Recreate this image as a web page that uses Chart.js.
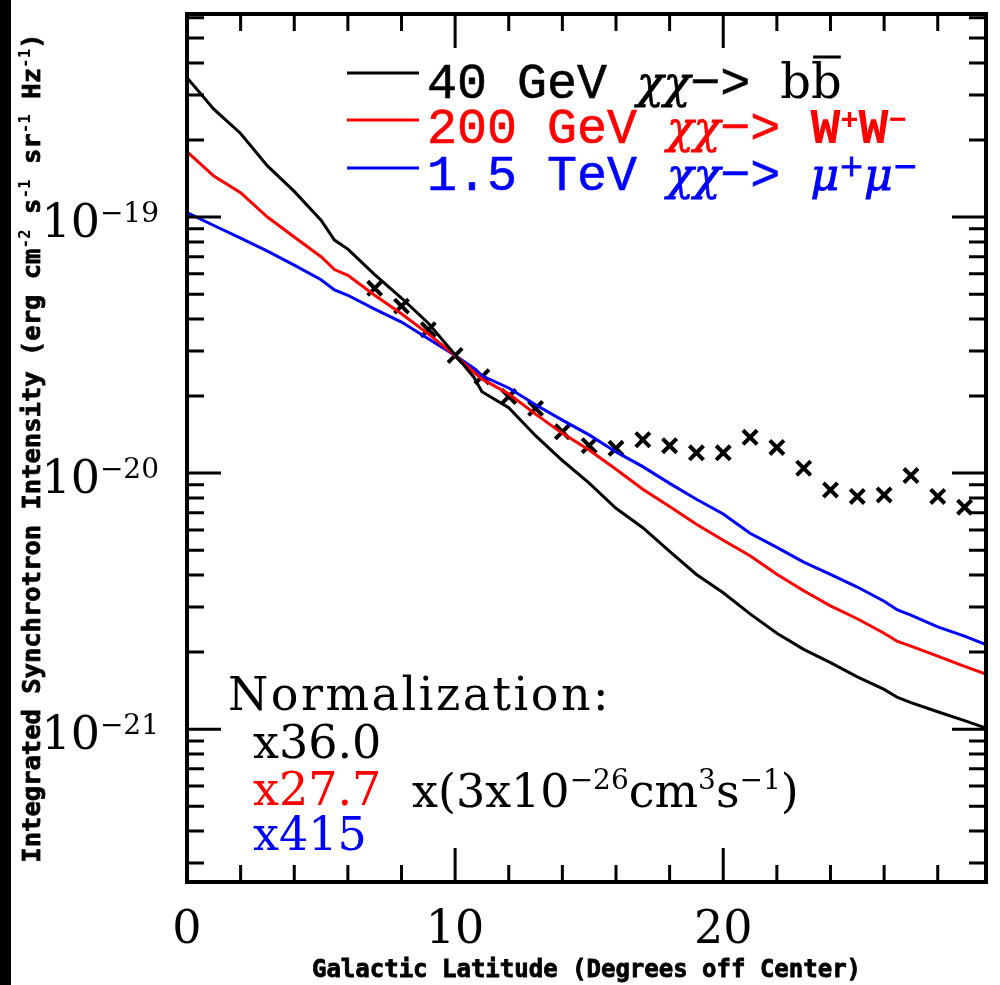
<!DOCTYPE html>
<html>
<head>
<meta charset="utf-8">
<script src="https://cdn.jsdelivr.net/npm/chart.js@4/dist/chart.umd.min.js"></script>
<style>
  html, body { margin: 0; padding: 0; background: #fff; }
  #wrap { position: relative; width: 1000px; height: 985px; background: #fff; }
  #strip { position: absolute; left: 0; top: 0; width: 11px; height: 985px; background: #000; }
  #myChart { position: absolute; left: 0; top: 0; }
</style>
</head>
<body>
<div id="wrap"><div id="strip"></div><canvas id="myChart" width="1000" height="985"></canvas></div>
<script>
// galactic latitude (degrees off center) where the model curves are sampled
var latitude = [0, 1, 2, 3, 4, 5, 5.5, 6, 7, 8, 9, 10, 10.7, 11, 12, 13, 14, 15, 16, 17, 18,
                19, 20, 21, 22, 23, 24, 25, 26, 26.5, 27, 28, 29, 29.8];

// integrated synchrotron intensity (erg cm^-2 s^-1 sr^-1 Hz^-1)
var bb40GeV = [3.50e-19, 2.64e-19, 2.12e-19, 1.585e-19, 1.26e-19, 9.73e-20, 8.13e-20, 7.50e-20,
               5.96e-20, 4.83e-20, 3.85e-20, 2.90e-20, 2.37e-20, 2.08e-20, 1.80e-20, 1.40e-20,
               1.12e-20, 9.14e-21, 7.29e-21, 6.12e-21, 4.95e-21, 4.02e-21, 3.41e-21, 2.82e-21,
               2.37e-21, 2.05e-21, 1.82e-21, 1.60e-21, 1.43e-21, 1.33e-21, 1.27e-21, 1.17e-21,
               1.08e-21, 1.01e-21];
var ww200GeV = [1.80e-19, 1.445e-19, 1.245e-19, 1.00e-19, 8.36e-20, 7.00e-20, 6.24e-20, 5.92e-20,
                4.95e-20, 4.19e-20, 3.50e-20, 2.88e-20, 2.48e-20, 2.33e-20, 2.04e-20, 1.70e-20,
                1.43e-20, 1.23e-20, 1.035e-20, 8.65e-21, 7.41e-21, 6.31e-21, 5.47e-21, 4.76e-21,
                4.03e-21, 3.47e-21, 3.03e-21, 2.70e-21, 2.37e-21, 2.20e-21, 2.11e-21, 1.93e-21,
                1.76e-21, 1.64e-21];
var mumu1500GeV = [1.04e-19, 9.27e-20, 8.28e-20, 7.36e-20, 6.49e-20, 5.69e-20, 5.19e-20, 4.95e-20,
                   4.37e-20, 3.89e-20, 3.35e-20, 2.88e-20, 2.57e-20, 2.40e-20, 2.15e-20, 1.85e-20,
                   1.61e-20, 1.41e-20, 1.21e-20, 1.06e-20, 9.12e-21, 7.91e-21, 6.92e-21, 5.82e-21,
                   5.13e-21, 4.49e-21, 4.02e-21, 3.59e-21, 3.16e-21, 2.92e-21, 2.79e-21, 2.51e-21,
                   2.31e-21, 2.14e-21];

// measured haze points
var hazeLatitude = [7, 8, 9, 10, 11, 12, 13, 14, 15, 16, 17, 18, 19, 20, 21, 22, 23, 24, 25, 26, 27, 28, 29];
var hazeIntensity = [5.27e-20, 4.49e-20, 3.63e-20, 2.88e-20, 2.38e-20, 1.99e-20, 1.79e-20, 1.45e-20,
                     1.28e-20, 1.25e-20, 1.35e-20, 1.28e-20, 1.20e-20, 1.20e-20, 1.38e-20, 1.26e-20,
                     1.045e-20, 8.59e-21, 8.11e-21, 8.22e-21, 9.78e-21, 8.11e-21, 7.36e-21];

// axes
var xMin = 0, xMax = 29.8;
var yMin = 2.53e-22, yMax = 6.21e-19;
var xTickLabels = ['0', '10', '20'];
var xTickValues = [0, 10, 20];
var yTickExponents = [-21, -20, -19];

// legend and normalisation text
var energies = ['40 GeV', '200 GeV', '1.5 TeV'];
var factors = ['x36.0', 'x27.7', 'x415'];
var colors = ['#000000', '#ff0000', '#0000ff'];

var SERIF = '"DejaVu Serif", serif';
var MONO = '"Liberation Mono", monospace';
var BOLDMONO = '"DejaVu Sans Mono", monospace';

function toPoints(xs, ys) {
  return xs.map(function (x, i) { return { x: x, y: ys[i] }; });
}

// draw a list of text runs one after the other, returns the end x
function drawRuns(ctx, x, y, runs, measureOnly) {
  runs.forEach(function (r) {
    ctx.font = r.font;
    ctx.letterSpacing = r.spacing || '0px';
    var w = ctx.measureText(r.text).width;
    if (!measureOnly) {
      ctx.fillStyle = r.color || '#000';
      ctx.fillText(r.text, x, y - (r.rise || 0));
      if (r.heavy) {
        ctx.strokeStyle = r.color || '#000';
        ctx.lineWidth = r.heavy;
        ctx.strokeText(r.text, x, y - (r.rise || 0));
      }
      if (r.overline) {
        // bar over the antiparticle symbol
        ctx.strokeStyle = r.color || '#000';
        ctx.lineWidth = 3;
        ctx.beginPath();
        ctx.moveTo(x + 2, y - r.overline); ctx.lineTo(x + w - 1, y - r.overline);
        ctx.stroke();
      }
    }
    x += w;
  });
  ctx.letterSpacing = '0px';
  return x;
}

var framePlugin = {
  id: 'frame',
  afterDatasetsDraw: function (chart) {
    var ctx = chart.ctx, a = chart.chartArea;
    var xs = chart.scales.x, ys = chart.scales.y;
    ctx.save();
    ctx.strokeStyle = '#000';
    ctx.fillStyle = '#000';

    // box
    ctx.lineWidth = 4;
    ctx.strokeRect(a.left, a.top, a.right - a.left, a.bottom - a.top);

    // x ticks, top and bottom
    ctx.lineWidth = 3;
    ctx.beginPath();
    for (var v = 2; v < xMax; v += 2) {
      var px = xs.getPixelForValue(v);
      var len = (v % 10 === 0) ? 34 : 17;
      ctx.moveTo(px, a.bottom); ctx.lineTo(px, a.bottom - len);
      ctx.moveTo(px, a.top); ctx.lineTo(px, a.top + len);
    }
    // y ticks, left and right
    for (var d = -22; d <= -19; d++) {
      for (var m = 1; m <= 9; m++) {
        var val = m * Math.pow(10, d);
        if (val <= yMin || val >= yMax) continue;
        var py = ys.getPixelForValue(val);
        var l = (m === 1) ? 34 : 17;
        ctx.moveTo(a.left, py); ctx.lineTo(a.left + l, py);
        ctx.moveTo(a.right, py); ctx.lineTo(a.right - l, py);
      }
    }
    ctx.stroke();

    // x tick labels
    ctx.font = '46px ' + SERIF;
    ctx.textAlign = 'center';
    xTickValues.forEach(function (v, i) {
      ctx.fillText(xTickLabels[i], xs.getPixelForValue(v), 943);
    });
    ctx.textAlign = 'left';

    // y tick labels 10^n
    yTickExponents.forEach(function (e) {
      var py = ys.getPixelForValue(Math.pow(10, e));
      var runs = [
        { text: '10', font: '46px ' + SERIF },
        { text: '\u2212' + Math.abs(e), font: '28px ' + SERIF, rise: 15 }
      ];
      var w = drawRuns(ctx, 0, 0, runs, true);
      drawRuns(ctx, 159 - w, py + 20, runs);
    });

    // axis titles
    ctx.font = 'bold 24px ' + BOLDMONO;
    ctx.textAlign = 'center';
    ctx.fillText('Galactic Latitude (Degrees off Center)', (a.left + a.right) / 2, 977);
    ctx.lineWidth = 0.8;
    ctx.strokeText('Galactic Latitude (Degrees off Center)', (a.left + a.right) / 2, 977);
    ctx.textAlign = 'left';

    var tf = 'bold 25.5px ' + BOLDMONO, sf = 'bold 16px ' + BOLDMONO;
    var yTitle = [
      { text: 'Integrated Synchrotron Intensity (erg cm', font: tf, heavy: 0.8 },
      { text: '-2', font: sf, rise: 10 },
      { text: ' s', font: tf, heavy: 0.8 },
      { text: '-1', font: sf, rise: 10 },
      { text: ' sr', font: tf, heavy: 0.8 },
      { text: '-1', font: sf, rise: 10 },
      { text: ' Hz', font: tf, heavy: 0.8 },
      { text: '-1', font: sf, rise: 10 },
      { text: ')', font: tf, heavy: 0.8 }
    ];
    var tw = drawRuns(ctx, 0, 0, yTitle, true);
    ctx.save();
    ctx.translate(40, (a.top + a.bottom) / 2);
    ctx.rotate(-Math.PI / 2);
    drawRuns(ctx, -tw / 2, 0, yTitle);
    ctx.restore();

    // legend
    var ef = '50px ' + MONO, gf = 'italic 44px ' + SERIF, pf = '48px ' + SERIF;
    var products = [
      [{ text: 'b', font: pf }, { text: 'b', font: pf, overline: 41 }],
      [{ text: 'W', font: 'bold 50px ' + MONO }, { text: '+', font: 'bold 30px ' + MONO, rise: 14 },
       { text: 'W', font: 'bold 50px ' + MONO }, { text: '\u2212', font: 'bold 30px ' + MONO, rise: 14 }],
      [{ text: '\u03bc', font: gf, heavy: 1 }, { text: '+', font: '30px ' + SERIF, rise: 14, heavy: 1 },
       { text: '\u03bc', font: gf, heavy: 1 }, { text: '\u2212', font: '30px ' + SERIF, rise: 14, heavy: 1 }]
    ];
    var lineY = [73, 120, 168], baseY = [98, 143, 190];
    for (var i = 0; i < 3; i++) {
      ctx.strokeStyle = colors[i];
      ctx.lineWidth = 3;
      ctx.beginPath();
      ctx.moveTo(347, lineY[i]); ctx.lineTo(419, lineY[i]);
      ctx.stroke();
      var runs = [
        { text: energies[i] + ' ', font: ef, heavy: 0.6 },
        { text: '\u03c7\u03c7', font: gf, heavy: 0.8 },
        { text: '\u2212> ', font: ef, heavy: 0.6 }
      ].concat(products[i]);
      runs.forEach(function (r) { r.color = colors[i]; });
      drawRuns(ctx, 427, baseY[i], runs);
    }

    // normalisation block
    ctx.font = '46px ' + SERIF;
    ctx.letterSpacing = '2.5px';
    ctx.fillStyle = '#000';
    ctx.fillText('Normalization:', 228, 710);
    ctx.letterSpacing = '0px';
    var fy = [758, 805, 850];
    factors.forEach(function (f, i) {
      ctx.fillStyle = colors[i];
      ctx.fillText(f, 253, fy[i]);
    });
    var nf = '46px ' + SERIF, nsf = '28px ' + SERIF;
    drawRuns(ctx, 412, 807, [
      { text: 'x(3x10', font: nf },
      { text: '\u221226', font: nsf, rise: 18 },
      { text: 'cm', font: nf },
      { text: '3', font: nsf, rise: 18 },
      { text: 's', font: nf },
      { text: '\u22121', font: nsf, rise: 18 },
      { text: ')', font: nf }
    ]);
    ctx.restore();
  }
};

var ctx = document.getElementById('myChart').getContext('2d');
var chart = new Chart(ctx, {
  type: 'line',
  data: {
    datasets: [{
      label: '40 GeV',
      data: toPoints(latitude, bb40GeV),
      borderColor: colors[0],
      borderWidth: 3,
      pointRadius: 0,
      tension: 0
    }, {
      label: '200 GeV',
      data: toPoints(latitude, ww200GeV),
      borderColor: colors[1],
      borderWidth: 3,
      pointRadius: 0,
      tension: 0
    }, {
      label: '1.5 TeV',
      data: toPoints(latitude, mumu1500GeV),
      borderColor: colors[2],
      borderWidth: 3,
      pointRadius: 0,
      tension: 0
    }, {
      label: 'haze',
      type: 'scatter',
      data: toPoints(hazeLatitude, hazeIntensity),
      showLine: false,
      pointStyle: 'crossRot',
      pointRadius: 10,
      pointBorderWidth: 4,
      borderColor: '#000',
      pointBorderColor: '#000'
    }]
  },
  options: {
    responsive: false,
    animation: false,
    layout: { padding: { left: 187, top: 9, right: 4, bottom: 103 } },
    scales: {
      x: { type: 'linear', min: xMin, max: xMax, display: false },
      y: { type: 'logarithmic', min: yMin, max: yMax, display: false }
    },
    plugins: { legend: { display: false }, tooltip: { enabled: false } }
  },
  plugins: [framePlugin]
});
</script>
</body>
</html>
